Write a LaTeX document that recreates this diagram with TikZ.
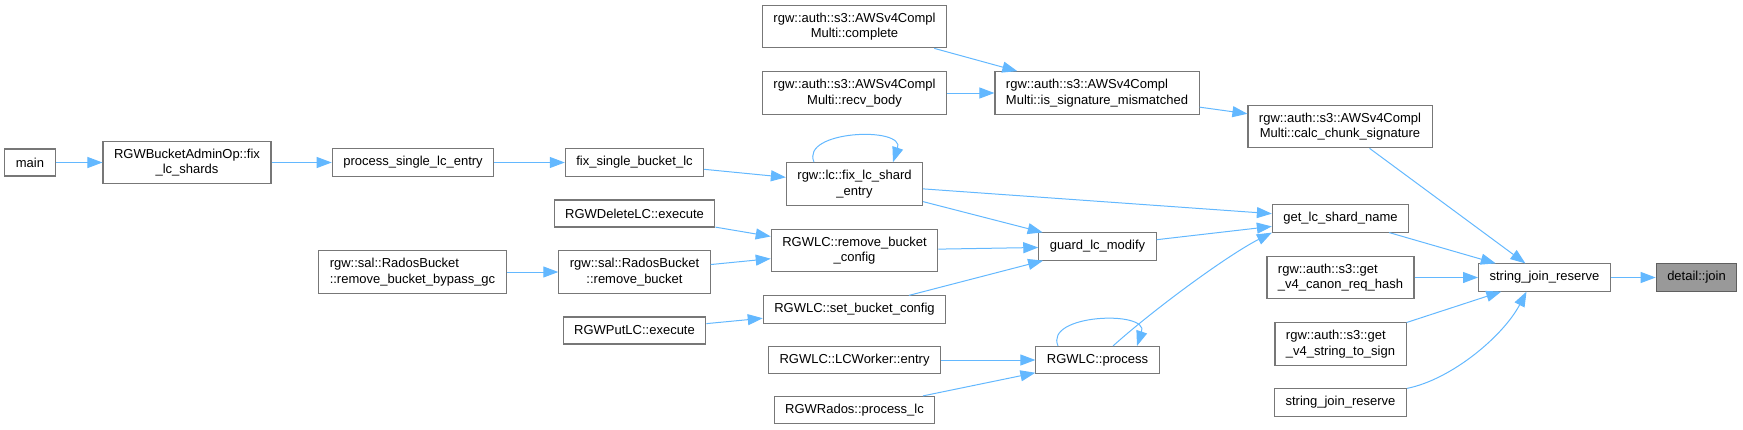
\documentclass[tikz,border=0pt]{standalone}
\usepackage{fontspec}
\setmainfont{Liberation Sans}
\usetikzlibrary{arrows.meta}
\definecolor{edgeblue}{HTML}{63B8FF}
\definecolor{boxgray}{HTML}{777777}
\definecolor{hitgray}{HTML}{999999}
\begin{document}
\begin{tikzpicture}[x=1pt,y=-1pt,
  fn/.style={draw=boxgray,line width=1.1pt,fill=white,inner xsep=11pt,inner ysep=7.5pt,
    minimum height=27pt,font=\fontsize{13}{15.5}\selectfont,align=center},
  fnl/.style={fn,align=left},
  hit/.style={fn,fill=hitgray,draw=boxgray!80!black},
  call/.style={draw=edgeblue,line width=1pt,-{Triangle[length=15pt,width=11pt]}}]
\useasboundingbox (0,0) rectangle (1743,429);
\node[fn] (complete) at (854.5,26.5) {rgw::auth::s3::AWSv4Compl\\Multi::complete};
\node[fn] (recv) at (854.5,93) {rgw::auth::s3::AWSv4Compl\\Multi::recv\_body};
\node[fnl] (sigmis) at (1097,93) {rgw::auth::s3::AWSv4Compl\\Multi::is\_signature\_mismatched};
\node[fn] (calc) at (1340,126.5) {rgw::auth::s3::AWSv4Compl\\Multi::calc\_chunk\_signature};
\node[fn] (main) at (30,162.5) {main};
\node[fn] (fixshards) at (187,162.5) {RGWBucketAdminOp::fix\\\_lc\_shards};
\node[fn] (procsingle) at (413,162.5) {process\_single\_lc\_entry};
\node[fn] (fixsingle) at (634.5,162.5) {fix\_single\_bucket\_lc};
\node[fn] (fixentry) at (854.5,184) {rgw::lc::fix\_lc\_shard\\\_entry};
\node[fn] (deletelc) at (634.5,213.5) {RGWDeleteLC::execute};
\node[fn] (rmcfg) at (854.5,250.5) {RGWLC::remove\_bucket\\\_config};
\node[fn] (guard) at (1097.5,246.5) {guard\_lc\_modify};
\node[fn] (getlc) at (1340.5,218.5) {get\_lc\_shard\_name};
\node[fnl] (bypass) at (412.5,272) {rgw::sal::RadosBucket\\::remove\_bucket\_bypass\_gc};
\node[fn] (rmbucket) at (634.5,272) {rgw::sal::RadosBucket\\::remove\_bucket};
\node[fn] (setcfg) at (854.5,309.5) {RGWLC::set\_bucket\_config};
\node[fn] (putlc) at (634.5,330.5) {RGWPutLC::execute};
\node[fnl] (canon) at (1340.5,277.5) {rgw::auth::s3::get\\\_v4\_canon\_req\_hash};
\node[fn] (sjr) at (1544.5,277.5) {string\_join\_reserve};
\node[hit] (join) at (1696.5,277.5) {detail::join};
\node[fnl] (s2s) at (1340.5,344) {rgw::auth::s3::get\\\_v4\_string\_to\_sign};
\node[fn] (worker) at (854.5,360) {RGWLC::LCWorker::entry};
\node[fn] (proc) at (1097.5,360) {RGWLC::process};
\node[fn] (sjrb) at (1340.5,402.5) {string\_join\_reserve};
\node[fn] (rados) at (854.5,410) {RGWRados::process\_lc};
\draw[call] (main)--(fixshards);
\draw[call] (fixshards)--(procsingle);
\draw[call] (procsingle)--(fixsingle);
\draw[call] (fixsingle)--(fixentry);
\draw[call] ([xshift=-40.5pt]fixentry.north) .. controls +(-14,-32) and +(12,-36) .. ([xshift=38.5pt]fixentry.north);
\draw[call] (complete)--(sigmis);
\draw[call] (recv)--(sigmis);
\draw[call] (sigmis)--(calc);
\draw[call] (calc)--(sjr);
\draw[call] (fixentry)--(getlc);
\draw[call] (fixentry)--(guard);
\draw[call] (deletelc)--(rmcfg);
\draw[call] (bypass)--(rmbucket);
\draw[call] (rmbucket)--(rmcfg);
\draw[call] (rmcfg)--(guard);
\draw[call] (putlc)--(setcfg);
\draw[call] (setcfg)--(guard);
\draw[call] (guard)--(getlc);
\draw[call] (worker)--(proc);
\draw[call] (rados)--(proc);
\draw[call] ([xshift=-39.5pt]proc.north) .. controls +(-14,-32) and +(12,-36) .. ([xshift=39.5pt]proc.north);
\draw[call] ([xshift=15.5pt]proc.north) .. controls +(40,-36) and +(-45,23) .. (getlc.south west);
\draw[call] (getlc)--(sjr);
\draw[call] (canon)--(sjr);
\draw[call] (s2s)--(sjr);
\draw[call] (sjrb.north east) .. controls +(45,-9) and +(-23,44) .. ([xshift=-18pt]sjr.south);
\draw[call] (sjr)--(join);
\end{tikzpicture}
\end{document}
